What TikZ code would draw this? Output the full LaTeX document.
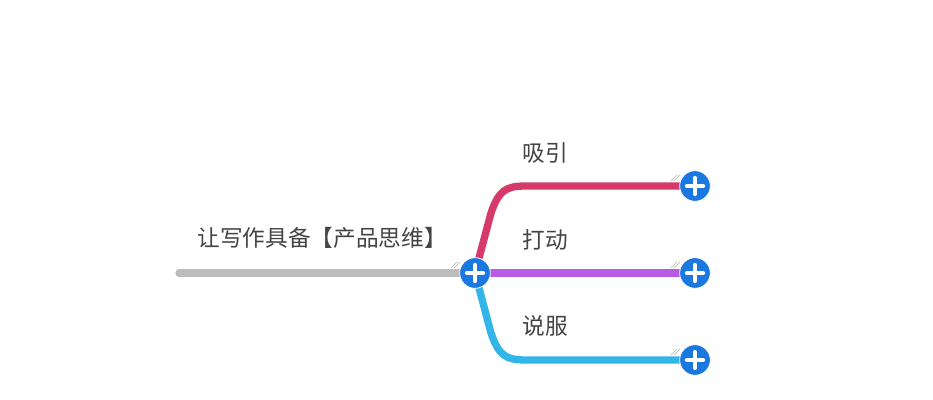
\documentclass[tikz,border=0pt]{standalone}
\usepackage{fontspec}
\newfontfamily\cjk{Noto Sans CJK SC}
\definecolor{grayline}{HTML}{BDBDBD}
\definecolor{redline}{HTML}{D63A6A}
\definecolor{purpline}{HTML}{B85DE3}
\definecolor{cyanline}{HTML}{33B5EA}
\definecolor{plusblue}{HTML}{1A78E0}
\definecolor{txt}{HTML}{444444}
\tikzset{
  branch/.style={line width=5.5pt, line cap=round},
  label/.style={font=\cjk\fontsize{17pt}{20pt}\selectfont, text=txt, inner sep=0pt},
  plusnode/.style={circle, fill=plusblue, draw=white, line width=0.6pt, minimum size=23pt, inner sep=0pt,
    path picture={\draw[white, line width=3.2pt, line cap=round] ([xshift=-6pt]path picture bounding box.center) -- ([xshift=6pt]path picture bounding box.center);
                  \draw[white, line width=3.2pt, line cap=round] ([yshift=-6pt]path picture bounding box.center) -- ([yshift=6pt]path picture bounding box.center);}},
  hatch/.style={draw=gray!60, line width=0.5pt}
}
\begin{document}
\begin{tikzpicture}[x=0.75pt, y=-0.75pt]
\useasboundingbox[fill=white] (0,0) rectangle (933,400);
% anchor coordinates
\coordinate (root) at (475,273);
\coordinate (start) at (179,273);
\coordinate (e1) at (695,186);
\coordinate (e2) at (695,273);
\coordinate (e3) at (695,360);
% branches
\draw[branch, grayline] (start) -- (root);
\draw[branch, redline] (root) -- (491,213) .. controls (499,190) and (506,186) .. (526,186) -- (e1);
\draw[branch, cyanline] (root) -- (491,333) .. controls (499,356) and (506,360) .. (526,360) -- (e3);
\draw[branch, purpline] (root) -- (e2);
% hatch marks
\foreach \hx/\hy in {451/268, 671/181, 671/268, 671/355}{
  \draw[hatch] (\hx,\hy) -- ++(6,-6);
  \draw[hatch] (\hx+3,\hy) -- ++(6,-6);
}
% nodes
\node[plusnode] (n0) at (root) {};
\node[plusnode] (n1) at (e1) {};
\node[plusnode] (n2) at (e2) {};
\node[plusnode] (n3) at (e3) {};
% labels
\node[label] (t0) at (322,238) {让写作具备【产品思维】};
\node[label] (t1) at (545,153) {吸引};
\node[label] (t2) at (545,240) {打动};
\node[label] (t3) at (545,326) {说服};
\end{tikzpicture}
\end{document}
